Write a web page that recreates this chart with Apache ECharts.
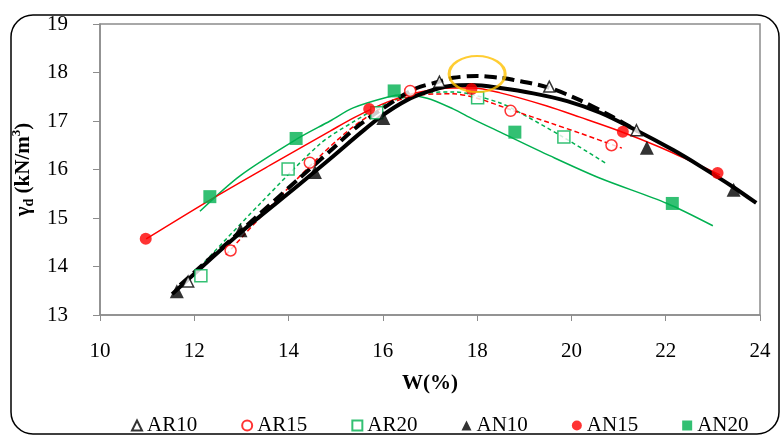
<!DOCTYPE html>
<html><head><meta charset="utf-8">
<script src="https://cdn.jsdelivr.net/npm/echarts@6/dist/echarts.min.js"></script>
<style>html,body{margin:0;padding:0;background:#fff}#c{width:781px;height:436px}</style>
</head><body><div id="c"></div>
<script>
// Measured points (markers)
const AR10_pts = [[11.87,13.69],[17.2,17.81],[19.53,17.71],[21.38,16.81]];
const AR15_pts = [[12.77,14.33],[14.45,16.14],[16.58,17.62],[18.71,17.21],[20.85,16.5]];
const AR20_pts = [[12.14,13.81],[13.99,16.01],[15.87,17.17],[18.01,17.48],[19.84,16.67]];
const AN10_pts = [[11.63,13.49],[12.98,14.75],[14.56,15.95],[16.01,17.06],[21.6,16.45],[23.44,15.58]];
const AN15_pts = [[10.97,14.57],[15.71,17.25],[17.88,17.66],[21.09,16.78],[23.1,15.93]];
const AN20_pts = [[12.33,15.44],[14.16,16.64],[16.24,17.62],[18.80,16.77],[22.14,15.3]];

// Trend curves
const AR10_fit = [[11.70,13.62],[12.97,14.72],[14.24,15.83],[14.88,16.38],[15.45,16.88],[16.36,17.49],[16.72,17.68],[17.15,17.80],[17.49,17.89],[18.00,17.93],[18.49,17.89],[18.76,17.85],[19.48,17.70],[20.18,17.43],[20.88,17.08],[21.41,16.79]];
const AN10_fit = [[11.53,13.43],[12.97,14.69],[14.24,15.70],[14.94,16.27],[15.52,16.75],[16.00,17.12],[16.51,17.43],[16.94,17.60],[17.42,17.72],[17.89,17.74],[18.49,17.68],[19.19,17.57],[19.91,17.41],[20.61,17.17],[21.31,16.84],[22.16,16.40],[22.73,16.07],[23.43,15.64],[23.92,15.31]];
const AR15_fit = [[12.67,14.24],[13.61,15.23],[14.67,16.28],[15.37,16.88],[16.09,17.33],[16.79,17.54],[17.49,17.56],[18.00,17.47],[18.72,17.23],[19.55,16.96],[20.18,16.75],[21.07,16.44]];
const AN15_fit = [[10.98,14.57],[12.33,15.37],[13.61,16.09],[14.88,16.79],[15.37,17.06],[16.09,17.39],[16.79,17.60],[17.49,17.68],[17.91,17.68],[18.49,17.58],[19.48,17.31],[20.18,17.08],[21.03,16.79],[21.88,16.46],[22.58,16.15],[23.15,15.89]];
const AR20_fit = [[12.02,13.89],[13.39,15.29],[14.67,16.53],[15.37,16.98],[16.09,17.37],[16.79,17.56],[17.49,17.60],[17.91,17.54],[18.49,17.37],[18.76,17.25],[19.82,16.67],[20.76,16.11]];
const AN20_fit = [[12.12,15.14],[12.97,15.87],[14.18,16.63],[14.88,17.00],[15.37,17.27],[16.09,17.49],[16.43,17.54],[16.94,17.47],[17.49,17.25],[17.91,17.04],[18.49,16.77],[19.55,16.28],[20.61,15.82],[22.03,15.30],[23.00,14.84]];

const highlight = [[18.0,17.97]];
const legendNames = ['AR10','AR15','AR20','AN10','AN15','AN20'];

const GREEN = '#00B050', RED = '#FF0000', BLACK = '#000000';
const FONT = 'Liberation Serif';

function fit(data, color, width, type){
  return {type:'line', data, smooth:0.3, showSymbol:false, silent:true, z:3,
    lineStyle:{color, width, type}};
}
function pts(name, data, symbol, color, size, empty){
  return {name, type:'scatter', data, symbol, symbolSize:size, z:5,
    itemStyle: empty ? {color:'#fff', borderColor:color, borderWidth:1.5} : {color}};
}

const chart = echarts.init(document.getElementById('c'), null, {renderer:'canvas'});
chart.setOption({
  animation:false,
  backgroundColor:'#fff',
  graphic:[{type:'rect', shape:{x:11,y:15,width:768,height:419,r:22}, style:{fill:'none',stroke:'#000',lineWidth:1.5}, z:-1}],
  grid:{left:100, right:21, top:24, bottom:121, show:true, borderColor:'#8c8c8c', borderWidth:1.5},
  xAxis:{type:'value', min:10, max:24, interval:2,
    name:'W(%)', nameLocation:'middle', nameGap:58,
    nameTextStyle:{fontFamily:FONT, fontSize:21, fontWeight:'bold', color:'#000'},
    axisLine:{lineStyle:{color:'#8c8c8c', width:1.5}},
    axisTick:{show:true, length:6, lineStyle:{color:'#8c8c8c'}},
    axisLabel:{fontFamily:FONT, fontSize:21, color:'#000', margin:26},
    splitLine:{show:false}},
  yAxis:{type:'value', min:13, max:19, interval:1,
    name:'{a|γ}{b|d}{a| (kN/m}{c|3}{a|)}', nameLocation:'middle', nameGap:58, nameRotate:90,
    nameTextStyle:{rich:{
      a:{fontFamily:FONT, fontSize:21, fontWeight:'bold', color:'#000', lineHeight:26, verticalAlign:'middle'},
      b:{fontFamily:FONT, fontSize:14, fontWeight:'bold', color:'#000', lineHeight:14, verticalAlign:'bottom', padding:[8,0,0,0]},
      c:{fontFamily:FONT, fontSize:13, fontWeight:'bold', color:'#000', lineHeight:13, verticalAlign:'top', padding:[0,0,10,0]}}},
    axisLine:{show:true, lineStyle:{color:'#8c8c8c', width:1.5}},
    axisTick:{show:true, length:7, lineStyle:{color:'#8c8c8c'}},
    axisLabel:{fontFamily:FONT, fontSize:21, color:'#000', margin:32},
    splitLine:{show:false}},
  legend:{data:legendNames, left:126, top:410, itemWidth:10, itemHeight:10, itemGap:44,
    textStyle:{fontFamily:FONT, fontSize:21, color:'#000'}},
  series:[
    fit(AN20_fit, GREEN, 1.5, 'solid'),
    fit(AR20_fit, GREEN, 1.5, [4,3]),
    fit(AN15_fit, RED, 1.5, 'solid'),
    fit(AR15_fit, RED, 1.5, [5,3]),
    fit(AN10_fit, BLACK, 4, 'solid'),
    fit(AR10_fit, BLACK, 4, [12,6]),
    pts('AR10', AR10_pts, 'triangle', BLACK, 11, true),
    pts('AR15', AR15_pts, 'circle', RED, 11, true),
    pts('AR20', AR20_pts, 'rect', GREEN, 12, true),
    pts('AN10', AN10_pts, 'triangle', BLACK, 14, false),
    pts('AN15', AN15_pts, 'circle', RED, 12, false),
    pts('AN20', AN20_pts, 'rect', GREEN, 13, false),
    {type:'scatter', data:highlight, symbol:'circle', symbolSize:[56,36], silent:true, z:6,
      itemStyle:{color:'rgba(0,0,0,0)', borderColor:'#FFC000', borderWidth:2.5}}
  ]
});
</script></body></html>
